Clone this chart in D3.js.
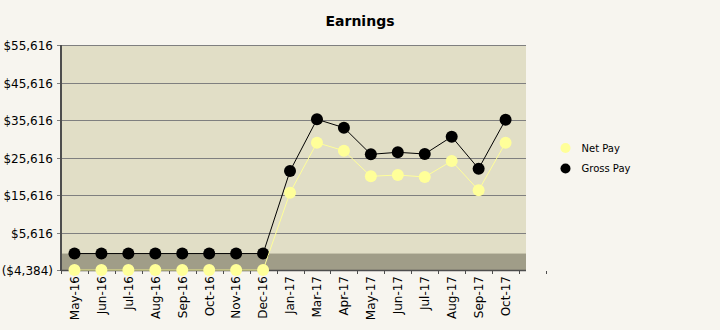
<!DOCTYPE html>
<html>
<head>
<meta charset="utf-8">
<script src="https://cdn.jsdelivr.net/npm/d3@7"></script>
<style>
  html, body { margin: 0; padding: 0; background: #f7f5ef; }
  svg { display: block; font-family: "DejaVu Sans", sans-serif; }
</style>
</head>
<body>
<svg id="chart" width="720" height="330"></svg>
<script>
// Monthly earnings data
const months = ["May-16", "Jun-16", "Jul-16", "Aug-16", "Sep-16", "Oct-16", "Nov-16", "Dec-16",
                "Jan-17", "Mar-17", "Apr-17", "May-17", "Jun-17", "Jul-17", "Aug-17", "Sep-17", "Oct-17"];
const netPay   = [-4384, -4384, -4384, -4384, -4384, -4384, -4384, -4384,
                  16230, 29560, 27430, 20600, 20950, 20420, 24680, 16870, 29560];
const grossPay = [0, 0, 0, 0, 0, 0, 0, 0,
                  22020, 35800, 33560, 26470, 27000, 26550, 31160, 22630, 35700];
const yTicks = [-4384, 5616, 15616, 25616, 35616, 45616, 55616];
const seriesNames = ["Net Pay", "Gross Pay"];

const svg = d3.select("#chart");
const plot = { left: 61, right: 526, top: 45, bottom: 270 };

// Category axis has one trailing empty slot beyond the last month
const x = d3.scaleBand().domain([...months, ""]).range([plot.left, 546]).padding(0);
const y = d3.scaleLinear().domain([-4384, 55616]).range([plot.bottom, plot.top]);
const fmt = v => v < 0 ? "($" + d3.format(",")(-v) + ")" : "$" + d3.format(",")(v);

// Title
svg.append("text").attr("x", 360).attr("y", 26).attr("text-anchor", "middle")
  .attr("font-size", 14).attr("font-weight", "bold").attr("fill", "#000").text("Earnings");

// Plot background and the below-zero band
svg.append("rect").attr("x", plot.left).attr("y", plot.top)
  .attr("width", plot.right - plot.left).attr("height", plot.bottom - plot.top)
  .attr("fill", "#e1dec6");
svg.append("rect").attr("x", plot.left).attr("y", y(0))
  .attr("width", plot.right - plot.left).attr("height", plot.bottom - y(0))
  .attr("fill", "#a09d88");

// Gridlines, y ticks and labels
const yg = svg.append("g");
yTicks.forEach(t => {
  const py = Math.round(y(t)) + 0.5;
  if (t !== yTicks[0]) {
    yg.append("line").attr("x1", plot.left).attr("x2", plot.right).attr("y1", py).attr("y2", py)
      .attr("stroke", "#7f7f7f").attr("stroke-width", 1);
  }
  yg.append("line").attr("x1", 57).attr("x2", plot.left).attr("y1", py).attr("y2", py)
    .attr("stroke", "#7f7f7f").attr("stroke-width", 1);
  yg.append("text").attr("x", 53).attr("y", py).attr("dy", "0.36em")
    .attr("text-anchor", "end").attr("font-size", 12).attr("fill", "#000").text(fmt(t));
});

// Axes lines
svg.append("line").attr("x1", plot.left).attr("x2", plot.right)
  .attr("y1", plot.bottom + 0.5).attr("y2", plot.bottom + 0.5)
  .attr("stroke", "#4d4d4d").attr("stroke-width", 1.5);
svg.append("line").attr("x1", plot.left).attr("x2", plot.left)
  .attr("y1", plot.top).attr("y2", plot.bottom + 1)
  .attr("stroke", "#4d4d4d").attr("stroke-width", 2);

// Category tick marks at slot boundaries
const bounds = x.domain().map(d => x(d)).concat([x.range()[1]]);
bounds.forEach(b => {
  const bx = Math.round(b) + 0.5;
  svg.append("line").attr("x1", bx).attr("x2", bx).attr("y1", plot.bottom + 1).attr("y2", plot.bottom + 4)
    .attr("stroke", "#4d4d4d").attr("stroke-width", 1);
});

// Rotated month labels
months.forEach(m => {
  const cx = x(m) + x.bandwidth() / 2;
  svg.append("text")
    .attr("transform", `translate(${cx},276) rotate(-90)`)
    .attr("dy", "0.36em").attr("text-anchor", "end")
    .attr("font-size", 12).attr("fill", "#000").text(m);
});

// Series lines and markers
const cx = (d, i) => x(months[i]) + x.bandwidth() / 2;
const line = d3.line().x((d, i) => cx(d, i)).y(d => y(d));
const series = [
  { name: seriesNames[1], values: grossPay, color: "#000000" },
  { name: seriesNames[0], values: netPay, color: "#ffff99" }
];
series.forEach(s => {
  svg.append("path").attr("d", line(s.values)).attr("fill", "none")
    .attr("stroke", s.color).attr("stroke-width", 1);
  svg.append("g").selectAll("circle").data(s.values).join("circle")
    .attr("cx", cx).attr("cy", d => y(d)).attr("r", 6).attr("fill", s.color);
});

// Legend
const legend = svg.append("g");
[{ name: seriesNames[0], color: "#ffff99" }, { name: seriesNames[1], color: "#000000" }].forEach((s, i) => {
  const ly = 148 + i * 20.5;
  legend.append("circle").attr("cx", 565.5).attr("cy", ly).attr("r", 5).attr("fill", s.color);
  legend.append("text").attr("x", 581.5).attr("y", ly).attr("dy", "0.36em")
    .attr("font-size", 10).attr("fill", "#000").text(s.name);
});
</script>
</body>
</html>
